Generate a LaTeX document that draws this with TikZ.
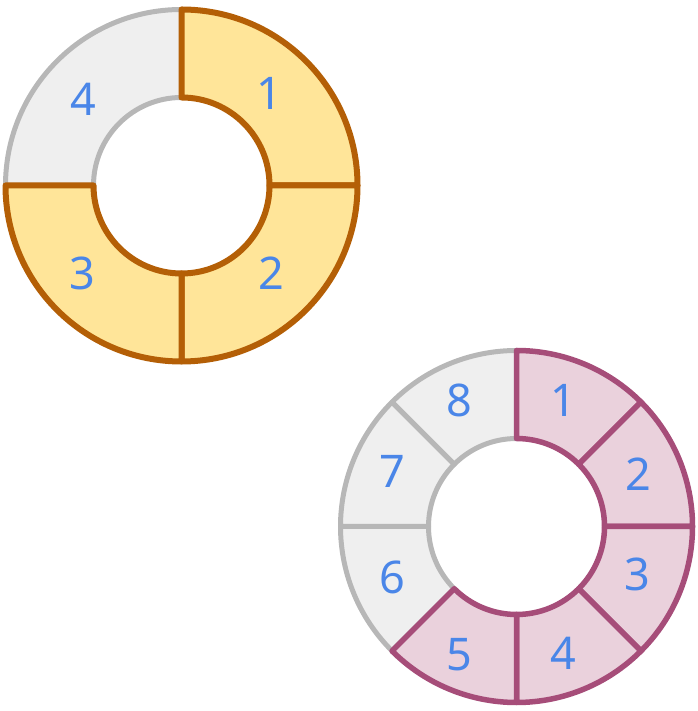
\documentclass[tikz,border=0pt]{standalone}
\usepackage{fontspec}
\setmainfont{Noto Sans}
\definecolor{org}{HTML}{B45F06}
\definecolor{yel}{HTML}{FFE599}
\definecolor{gst}{HTML}{B7B7B7}
\definecolor{gfl}{HTML}{EFEFEF}
\definecolor{pst}{HTML}{A64D79}
\definecolor{pfl}{HTML}{EAD1DC}
\definecolor{lbl}{HTML}{4A86E8}
\tikzset{
  graysec/.style={draw=gst,fill=gfl,line width=5pt,line join=round},
  orasec/.style={draw=org,fill=yel,line width=6pt,line join=round},
  pursec/.style={draw=pst,fill=pfl,line width=5.5pt,line join=round},
  numlbl/.style={text=lbl,font=\fontsize{45}{50}\selectfont,inner sep=0pt}
}
\newcommand{\sector}[3]{%
  \path[#1] (#2:\RO) arc[start angle=#2,end angle=#3,radius=\RO] -- (#3:\RI) arc[start angle=#3,end angle=#2,radius=\RI] -- cycle;}
\def\RO{176pt}
\def\RI{88pt}
\begin{document}
\begin{tikzpicture}[x=1pt,y=1pt]
\useasboundingbox (0,0) rectangle (697,711);
% ring 1
\begin{scope}[shift={(181.5,525.5)}]
  \sector{graysec}{90}{180}
  \sector{orasec}{90}{0}
  \sector{orasec}{0}{-90}
  \sector{orasec}{-90}{-180}
\end{scope}
\begin{scope}[shift={(0,711)},y=-1pt]
  \node[numlbl] (a1) at (269,93) {1};
  \node[numlbl] (a2) at (271,273) {2};
  \node[numlbl] (a3) at (82,273) {3};
  \node[numlbl] (a4) at (83,99) {4};
\end{scope}
% ring 2
\begin{scope}[shift={(516.5,184.5)}]
  \sector{graysec}{-135}{-180}
  \sector{graysec}{180}{135}
  \sector{graysec}{135}{90}
  \sector{pursec}{90}{45}
  \sector{pursec}{45}{0}
  \sector{pursec}{0}{-45}
  \sector{pursec}{-45}{-90}
  \sector{pursec}{-90}{-135}
\end{scope}
\begin{scope}[shift={(0,711)},y=-1pt]
  \node[numlbl] (b1) at (563,400) {1};
  \node[numlbl] (b2) at (638,474) {2};
  \node[numlbl] (b3) at (637,574) {3};
  \node[numlbl] (b4) at (563,653) {4};
  \node[numlbl] (b5) at (459,655) {5};
  \node[numlbl] (b6) at (392,577) {6};
  \node[numlbl] (b7) at (392,471) {7};
  \node[numlbl] (b8) at (459,400) {8};
\end{scope}
\end{tikzpicture}
\end{document}
